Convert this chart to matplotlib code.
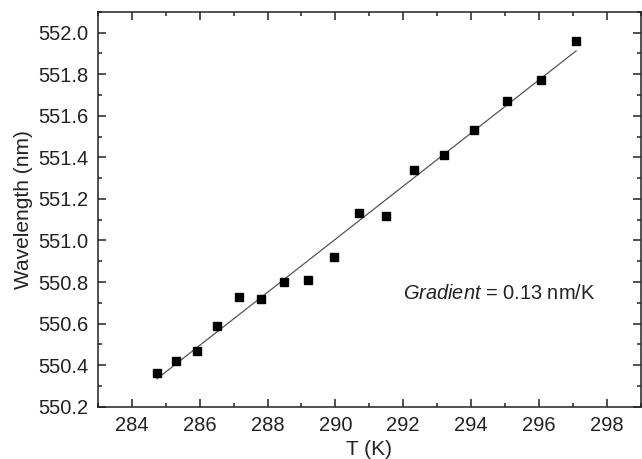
import numpy as np
import matplotlib
matplotlib.use('Agg')
import matplotlib.pyplot as plt
from matplotlib.ticker import MultipleLocator, FormatStrFormatter

plt.rcParams['font.family'] = ['Liberation Sans', 'DejaVu Sans']
plt.rcParams['mathtext.fontset'] = 'custom'
plt.rcParams['mathtext.it'] = 'Liberation Sans:italic'
plt.rcParams['mathtext.rm'] = 'Liberation Sans'

# Measured temperature (K) and peak wavelength (nm)
temperature = [284.74, 285.30, 285.91, 286.51, 287.17, 287.81, 288.49, 289.19,
               289.96, 290.71, 291.50, 292.33, 293.19, 294.08, 295.05, 296.05,
               297.10]
wavelength = [550.36, 550.42, 550.47, 550.59, 550.73, 550.72, 550.80, 550.81,
              550.92, 551.13, 551.12, 551.34, 551.41, 551.53, 551.67, 551.77,
              551.96]
gradient_label = r'$\mathit{Gradient}$ = 0.13 nm/K'

fig = plt.figure(figsize=(6.42, 4.59), dpi=100)
ax = fig.add_axes([0.1527, 0.114, 0.845, 0.860])

# linear fit through the points
coef = np.polyfit(temperature, wavelength, 1)
tfit = np.array([temperature[0], temperature[-1]])
ax.plot(tfit, np.polyval(coef, tfit), color='#555555', linewidth=0.9, zorder=2)
ax.plot(temperature, wavelength, 's', color='black', markersize=6.2, zorder=3)

ax.set_xlim(283, 299)
ax.set_ylim(550.2, 552.1)
ax.xaxis.set_major_locator(MultipleLocator(2))
ax.xaxis.set_minor_locator(MultipleLocator(1))
ax.yaxis.set_major_locator(MultipleLocator(0.2))
ax.yaxis.set_minor_locator(MultipleLocator(0.1))
ax.yaxis.set_major_formatter(FormatStrFormatter('%.1f'))

ax.tick_params(which='both', direction='in', top=True, right=True,
               labelsize=14.5, width=1.1, colors='#222222', pad=7)
ax.tick_params(which='major', length=6)
ax.tick_params(which='minor', length=3)
for s in ax.spines.values():
    s.set_linewidth(1.1)
    s.set_color('#222222')

ax.set_xlabel('T (K)', fontsize=15, labelpad=3, color='#222222')
ax.set_ylabel('Wavelength (nm)', fontsize=15, labelpad=4, color='#222222')

ax.text(292.0, 550.745, gradient_label, fontsize=14.4, va='center', ha='left',
        color='#222222')

fig.savefig('out.png', dpi=100)
